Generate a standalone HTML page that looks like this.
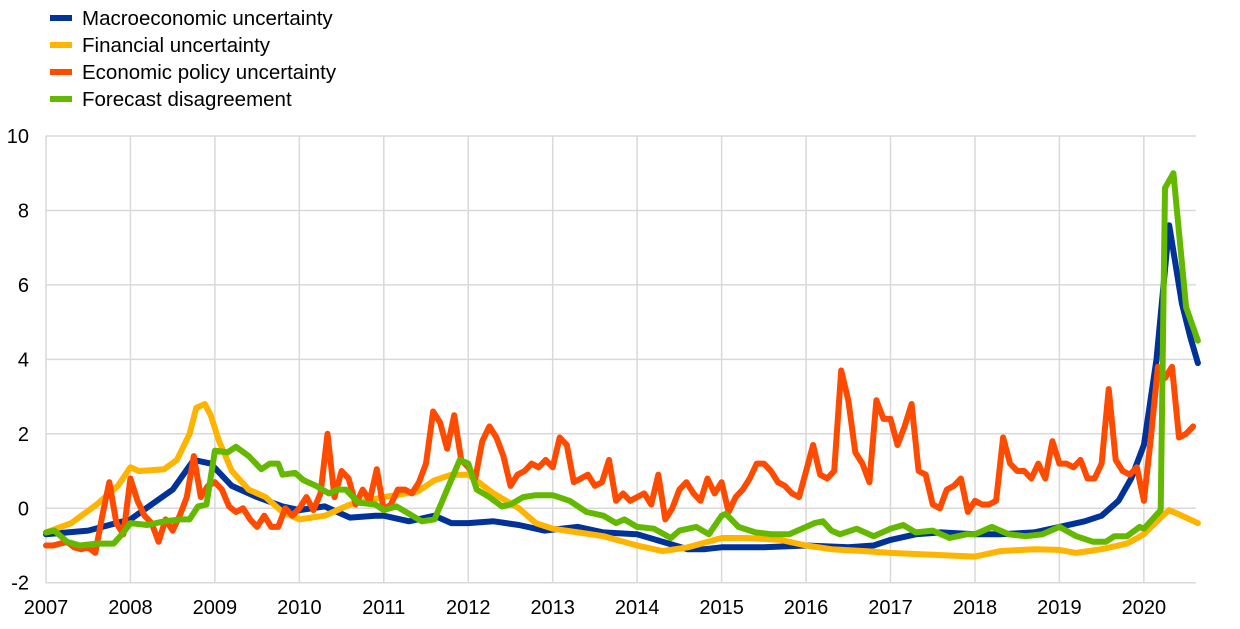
<!DOCTYPE html>
<html><head><meta charset="utf-8"><style>
html,body{margin:0;padding:0;background:#fff;}
svg{display:block;font-family:"Liberation Sans",sans-serif;}
</style></head><body>
<svg id="c" width="1240" height="629" xmlns="http://www.w3.org/2000/svg">
<g font-size="20.5" fill="#000">
<line x1="50" y1="18" x2="72" y2="18" stroke="#003299" stroke-width="6"/><text x="82" y="25">Macroeconomic uncertainty</text>
<line x1="50" y1="45" x2="72" y2="45" stroke="#FFB400" stroke-width="6"/><text x="82" y="52">Financial uncertainty</text>
<line x1="50" y1="72" x2="72" y2="72" stroke="#FF4B00" stroke-width="6"/><text x="82" y="79">Economic policy uncertainty</text>
<line x1="50" y1="99" x2="72" y2="99" stroke="#65B800" stroke-width="6"/><text x="82" y="106">Forecast disagreement</text>
</g>
<g id="grid" stroke="#d9d9d9" stroke-width="1.5"></g>
<g id="labels" font-size="20" fill="#000"></g>
<g id="series" fill="none" stroke-width="6" stroke-linejoin="round" stroke-linecap="round"></g>
</svg>
<script>
var L=46,R=1196,T=136,B=582.7,YW=84.45;
function X(t){return L+(t-2007)*YW;}
function Y(v){return B-(v+2)*(B-T)/12;}
var ns="http://www.w3.org/2000/svg";
function el(p,tag,a,txt){var e=document.createElementNS(ns,tag);for(var k in a)e.setAttribute(k,a[k]);if(txt!=null)e.textContent=txt;document.getElementById(p).appendChild(e);}
for(var v=-2;v<=10;v+=2){el('grid','line',{x1:L,x2:R,y1:Y(v),y2:Y(v)});el('labels','text',{x:29,y:Y(v)+7,'text-anchor':'end'},v);}
for(var y=2007;y<=2020;y++){el('grid','line',{x1:X(y),x2:X(y),y1:T,y2:B});el('labels','text',{x:X(y),y:614,'text-anchor':'middle'},y);}
function pl(pts,col){var s=pts.map(function(p){return X(p[0]).toFixed(1)+','+Y(p[1]).toFixed(1)}).join(' ');el('series','polyline',{points:s,stroke:col});}
function pairs(a){var r=[];for(var i=0;i<a.length;i+=2)r.push([a[i],a[i+1]]);return r;}
var blue=pairs([2007,-0.7,2007.5,-0.6,2008,-0.3,2008.5,0.5,2008.75,1.3,2008.95,1.2,2009.2,0.6,2009.5,0.3,2009.8,0.05,2010,-0.05,2010.3,0.05,2010.6,-0.25,2010.9,-0.2,2011,-0.2,2011.3,-0.35,2011.6,-0.2,2011.8,-0.4,2012,-0.4,2012.3,-0.35,2012.6,-0.45,2012.9,-0.6,2013.1,-0.55,2013.3,-0.5,2013.6,-0.65,2014,-0.7,2014.3,-0.9,2014.6,-1.1,2014.8,-1.1,2015,-1.05,2015.5,-1.05,2016,-1.0,2016.5,-1.05,2016.8,-1.0,2017,-0.85,2017.3,-0.7,2017.6,-0.65,2018,-0.7,2018.3,-0.7,2018.7,-0.65,2019,-0.5,2019.3,-0.35,2019.5,-0.2,2019.7,0.2,2019.85,0.8,2020,1.7,2020.15,4.0,2020.3,7.6,2020.45,5.5,2020.55,4.6,2020.64,3.9]);
var yel=pairs([2007,-0.65,2007.3,-0.4,2007.6,0.1,2007.85,0.6,2008,1.1,2008.1,1.0,2008.4,1.05,2008.55,1.3,2008.7,2.0,2008.78,2.7,2008.88,2.8,2008.95,2.5,2009.05,1.8,2009.2,1.0,2009.4,0.5,2009.6,0.3,2009.8,-0.1,2010,-0.3,2010.3,-0.2,2010.6,0.1,2011,0.3,2011.4,0.45,2011.6,0.75,2011.8,0.9,2012,0.9,2012.3,0.4,2012.6,0.0,2012.8,-0.4,2013,-0.55,2013.3,-0.65,2013.6,-0.75,2014,-1.0,2014.3,-1.15,2014.6,-1.05,2015,-0.8,2015.3,-0.8,2015.7,-0.85,2016,-1.0,2016.3,-1.1,2016.7,-1.15,2017,-1.2,2017.5,-1.25,2018,-1.3,2018.3,-1.15,2018.7,-1.1,2019,-1.12,2019.2,-1.2,2019.5,-1.1,2019.8,-0.95,2020,-0.7,2020.2,-0.25,2020.3,-0.05,2020.4,-0.15,2020.64,-0.4]);
var ep=[-1.0,-1.0,-0.95,-0.9,-1.05,-1.1,-1.05,-1.2,-0.2,0.7,-0.4,-0.7,
0.8,0.2,-0.2,-0.4,-0.9,-0.3,-0.6,-0.2,0.3,1.4,0.3,0.6,
0.7,0.5,0.05,-0.1,0.0,-0.3,-0.5,-0.2,-0.5,-0.5,0.0,-0.2,
0.0,0.3,-0.05,0.4,2.0,0.3,1.0,0.8,0.1,0.5,0.2,1.05,
-0.05,0.1,0.5,0.5,0.4,0.7,1.2,2.6,2.3,1.6,2.5,1.3,
1.1,0.8,1.8,2.2,1.9,1.4,0.6,0.9,1.0,1.2,1.1,1.3,
1.1,1.9,1.7,0.7,0.8,0.9,0.6,0.7,1.3,0.2,0.4,0.2,
0.3,0.4,0.1,0.9,-0.3,0.0,0.5,0.7,0.4,0.2,0.8,0.4,
0.7,-0.1,0.3,0.5,0.8,1.2,1.2,1.0,0.7,0.6,0.4,0.3,
1.0,1.7,0.9,0.8,1.0,3.7,2.9,1.5,1.2,0.7,2.9,2.4,
2.4,1.7,2.2,2.8,1.0,0.9,0.1,0.0,0.5,0.6,0.8,-0.1,
0.2,0.1,0.1,0.2,1.9,1.2,1.0,1.0,0.8,1.2,0.8,1.8,
1.2,1.2,1.1,1.3,0.8,0.8,1.2,3.2,1.3,1.0,0.9,1.1,
0.2,1.9,3.8,3.5,3.8,1.9,2.0,2.2];
var orp=ep.map(function(v,i){return [2007+i/12,v];});
var grn=pairs([2007,-0.65,2007.1,-0.6,2007.25,-0.9,2007.4,-1.0,2007.6,-0.95,2007.8,-0.95,2007.9,-0.7,2008,-0.4,2008.2,-0.45,2008.4,-0.35,2008.6,-0.3,2008.7,-0.3,2008.8,0.05,2008.9,0.1,2009.0,1.55,2009.15,1.5,2009.25,1.65,2009.4,1.4,2009.55,1.05,2009.65,1.2,2009.75,1.2,2009.8,0.9,2009.95,0.95,2010.05,0.75,2010.2,0.6,2010.35,0.4,2010.45,0.5,2010.55,0.5,2010.7,0.15,2010.9,0.1,2011,-0.05,2011.15,0.05,2011.3,-0.15,2011.45,-0.35,2011.6,-0.3,2011.75,0.5,2011.9,1.3,2012.0,1.2,2012.1,0.5,2012.25,0.3,2012.4,0.05,2012.5,0.1,2012.65,0.3,2012.8,0.35,2013,0.35,2013.2,0.2,2013.4,-0.1,2013.6,-0.2,2013.75,-0.4,2013.85,-0.3,2014,-0.5,2014.2,-0.55,2014.4,-0.8,2014.5,-0.6,2014.7,-0.5,2014.85,-0.7,2015,-0.2,2015.05,-0.15,2015.2,-0.5,2015.4,-0.65,2015.6,-0.7,2015.8,-0.7,2016,-0.5,2016.1,-0.4,2016.2,-0.35,2016.3,-0.6,2016.4,-0.7,2016.6,-0.55,2016.8,-0.75,2017,-0.55,2017.15,-0.45,2017.3,-0.65,2017.5,-0.6,2017.7,-0.8,2017.9,-0.7,2018,-0.7,2018.2,-0.5,2018.4,-0.7,2018.6,-0.75,2018.8,-0.7,2019,-0.5,2019.2,-0.75,2019.4,-0.9,2019.55,-0.9,2019.65,-0.75,2019.8,-0.75,2019.95,-0.5,2020.0,-0.55,2020.2,-0.05,2020.25,8.6,2020.35,9.0,2020.5,5.4,2020.64,4.5]);
pl(blue,'#003299');pl(yel,'#FFB400');pl(orp,'#FF4B00');pl(grn,'#65B800');
</script>
</body></html>
